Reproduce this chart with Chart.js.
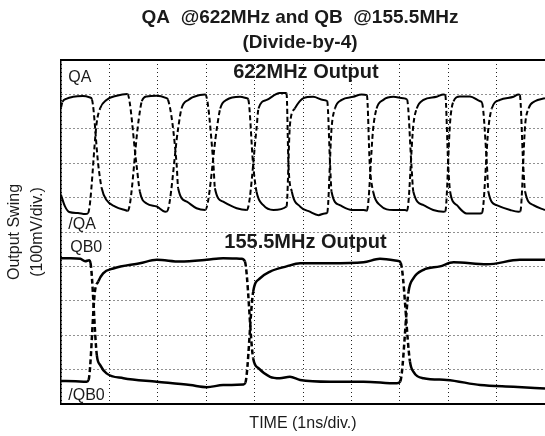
<!DOCTYPE html>
<html>
<head>
<meta charset="utf-8">
<script src="https://cdn.jsdelivr.net/npm/chart.js@4.4.0/dist/chart.umd.min.js"></script>
<style>
  html, body { margin: 0; padding: 0; background: #fff; }
  canvas { display: block; }
</style>
</head>
<body>
<canvas id="scope" width="545" height="436"></canvas>
<script>
// time in ns (1 ns/div), swing in divisions (100 mV/div)
const qaTrace = [
  [0.00, 8.62], [0.03, 8.78], [0.12, 8.88], [0.25, 8.93], [0.45, 8.95], [0.60, 8.91],
  [0.64, 8.85], [0.77, 6.95], [0.84, 6.28], [0.94, 5.93], [1.12, 5.74], [1.32, 5.64], [1.38, 5.62],
  [1.60, 8.21], [1.67, 8.80], [1.77, 8.94], [1.98, 8.96], [2.18, 8.89], [2.21, 8.85],
  [2.39, 6.95], [2.42, 6.27], [2.60, 5.88], [2.80, 5.69], [2.98, 5.64],
  [3.22, 8.01], [3.29, 8.59], [3.42, 8.84], [3.70, 8.93], [3.84, 8.89], [3.87, 8.85],
  [3.97, 6.95], [4.04, 6.17], [4.18, 5.78], [4.39, 5.64], [4.66, 5.74],
  [4.73, 8.11], [4.83, 8.59], [5.01, 8.89], [5.21, 8.93], [5.42, 8.84], [5.50, 8.80],
  [5.56, 6.95], [5.59, 6.17], [5.76, 5.78], [6.01, 5.64], [6.25, 5.64], [6.32, 5.62],
  [6.45, 8.01], [6.52, 8.59], [6.66, 8.84], [6.87, 8.93], [7.07, 8.89], [7.15, 8.85],
  [7.24, 6.95], [7.28, 6.17], [7.49, 5.78], [7.69, 5.64], [7.90, 5.59], [7.94, 5.60],
  [8.04, 8.21], [8.11, 8.80], [8.24, 8.94], [8.45, 8.94], [8.66, 8.80], [8.70, 8.75],
  [8.80, 6.95], [8.83, 6.17], [9.00, 5.78], [9.28, 5.64], [9.45, 5.59], [9.49, 5.60],
  [9.59, 8.11], [9.66, 8.59], [9.79, 8.80], [10.0, 8.89]
];

const qaBarTrace = [
  [0.00, 6.08], [0.08, 5.75], [0.17, 5.58], [0.35, 5.55], [0.50, 5.52], [0.56, 5.55],
  [0.74, 8.20], [0.81, 8.60], [0.94, 8.84], [1.15, 8.96], [1.37, 9.01],
  [1.56, 6.95], [1.63, 6.17], [1.77, 5.83], [1.98, 5.74], [2.15, 5.59], [2.19, 5.60],
  [2.42, 8.01], [2.49, 8.59], [2.63, 8.84], [2.87, 8.98], [2.98, 9.00],
  [3.15, 6.95], [3.18, 6.27], [3.35, 5.88], [3.63, 5.69], [3.84, 5.64],
  [4.04, 8.01], [4.08, 8.59], [4.25, 8.84], [4.52, 9.04], [4.66, 9.04],
  [4.70, 6.95], [4.77, 6.17], [4.94, 5.74], [5.14, 5.59], [5.32, 5.49], [5.45, 5.54], [5.50, 5.56],
  [5.59, 8.01], [5.66, 8.59], [5.80, 8.84], [6.04, 8.93], [6.21, 9.00], [6.32, 8.98],
  [6.38, 6.95], [6.45, 6.17], [6.59, 5.78], [6.87, 5.64], [7.11, 5.64], [7.15, 5.62],
  [7.28, 8.11], [7.35, 8.59], [7.49, 8.84], [7.76, 8.93], [7.90, 9.00], [7.94, 8.98],
  [8.00, 6.95], [8.04, 6.17], [8.18, 5.78], [8.38, 5.54], [8.66, 5.54], [8.70, 5.56],
  [8.83, 8.01], [8.90, 8.59], [9.07, 8.84], [9.35, 8.93], [9.45, 9.00], [9.48, 8.98],
  [9.55, 6.95], [9.59, 6.17], [9.76, 5.78], [10.0, 5.64]
];

const qb0Trace = [
  [0.00, 4.24], [0.20, 4.24], [0.40, 4.22], [0.50, 4.15], [0.58, 4.18], [0.61, 4.10],
  [0.74, 1.42], [0.81, 1.13], [0.94, 0.89], [1.29, 0.75], [1.98, 0.65], [2.67, 0.55],
  [3.01, 0.49], [3.35, 0.55], [3.77, 0.57], [3.81, 0.62],
  [3.97, 3.26], [4.11, 3.65], [4.32, 3.85], [4.66, 4.00], [4.94, 4.09], [5.56, 4.09],
  [6.25, 4.12], [6.59, 4.22], [6.97, 4.16], [7.02, 4.10],
  [7.21, 1.23], [7.28, 0.94], [7.49, 0.75], [7.97, 0.70], [8.66, 0.55], [9.35, 0.50], [10.0, 0.45]
];

const qb0BarTrace = [
  [0.00, 0.67], [0.30, 0.66], [0.53, 0.65], [0.57, 0.70],
  [0.70, 3.26], [0.77, 3.56], [0.87, 3.80], [1.08, 3.94], [1.63, 4.09], [1.98, 4.19],
  [2.46, 4.14], [3.01, 4.19], [3.35, 4.24], [3.73, 4.22], [3.80, 4.14],
  [3.97, 1.33], [4.08, 1.04], [4.32, 0.79], [4.52, 0.75], [4.73, 0.79], [4.94, 0.70],
  [5.56, 0.65], [6.25, 0.65], [6.94, 0.60], [7.01, 0.66],
  [7.18, 3.26], [7.28, 3.65], [7.49, 3.90], [7.83, 4.00], [8.11, 4.12], [8.80, 4.06],
  [9.48, 4.19], [10.0, 4.19]
];

const titleLines = ['QA  @622MHz and QB  @155.5MHz', '(Divide-by-4)'];
const xTitle = 'TIME (1ns/div.)';
const yTitle = ['Output Swing', '(100mV/div.)'];

// text placed at [time, division]
const traceLabels = [
  { text: 'QA', at: [0.15, 9.48] },
  { text: '/QA', at: [0.15, 5.22] },
  { text: 'QB0', at: [0.19, 4.55] },
  { text: '/QB0', at: [0.15, 0.23] }
];
const outputLabels = [
  { text: '622MHz Output', at: [5.06, 9.63] },
  { text: '155.5MHz Output', at: [5.05, 4.69] }
];

const FONT = '"Liberation Sans", Arial, Helvetica, sans-serif';
const INK = '#1a1a1a';

const toXY = arr => arr.map(p => ({ x: p[0], y: p[1] }));

// fast edges show up as dashed on the scope capture
const steepDash = ctx => {
  const dx = Math.abs(ctx.p1.x - ctx.p0.x);
  const dy = Math.abs(ctx.p1.y - ctx.p0.y);
  return dy > 3 * dx ? [5, 3] : undefined;
};

function trace(label, data, width) {
  return {
    label: label,
    data: toXY(data),
    borderColor: '#000',
    borderWidth: width,
    pointRadius: 0,
    cubicInterpolationMode: 'monotone',
    fill: false,
    segment: { borderDash: steepDash }
  };
}

const textPlugin = {
  id: 'scopeText',
  afterDraw(chart) {
    const ctx = chart.ctx;
    const xs = chart.scales.x, ys = chart.scales.y;
    ctx.save();
    ctx.fillStyle = INK;
    ctx.textBaseline = 'middle';

    ctx.textAlign = 'center';
    ctx.font = 'bold 19px ' + FONT;
    ctx.fillText(titleLines[0], 300, 18);
    ctx.fillText(titleLines[1], 300, 43);

    ctx.font = 'bold 20px ' + FONT;
    outputLabels.forEach(l => {
      ctx.fillText(l.text, xs.getPixelForValue(l.at[0]), ys.getPixelForValue(l.at[1]));
    });

    ctx.textAlign = 'left';
    ctx.font = '16px ' + FONT;
    traceLabels.forEach(l => {
      ctx.fillText(l.text, xs.getPixelForValue(l.at[0]), ys.getPixelForValue(l.at[1]));
    });
    ctx.restore();
  }
};

new Chart(document.getElementById('scope'), {
  type: 'line',
  data: {
    datasets: [
      trace('QA', qaTrace, 2),
      trace('/QA', qaBarTrace, 2),
      trace('QB0', qb0Trace, 2.5),
      trace('/QB0', qb0BarTrace, 2.5)
    ]
  },
  options: {
    responsive: false,
    animation: false,
    layout: { padding: { top: 60, left: 0, right: 0, bottom: 0 } },
    plugins: {
      legend: { display: false },
      tooltip: { enabled: false },
      title: { display: false }
    },
    scales: {
      x: {
        type: 'linear',
        min: 0, max: 10,
        ticks: { display: false, stepSize: 1 },
        grid: { color: '#222', lineWidth: 1, drawTicks: false },
        border: { display: true, color: '#000', width: 2, dash: [1, 3] },
        title: {
          display: true,
          text: xTitle,
          color: INK,
          font: { family: FONT, size: 16, lineHeight: 1.2 },
          padding: { top: 0, bottom: 3 }
        },
        afterFit: s => { s.height = 32; }
      },
      xTop: {
        type: 'linear',
        position: 'top',
        min: 0, max: 10,
        ticks: { display: false },
        grid: { display: false },
        border: { display: true, color: '#000', width: 2 },
        afterFit: s => { s.height = 0; }
      },
      y: {
        type: 'linear',
        min: 0, max: 10,
        ticks: { display: false, stepSize: 1 },
        grid: { color: '#222', lineWidth: 1, drawTicks: false },
        border: { display: true, color: '#000', width: 1.5, dash: [1, 3] },
        title: {
          display: true,
          text: yTitle,
          color: INK,
          font: { family: FONT, size: 16, lineHeight: 1.44 },
          padding: { top: 3.5, bottom: 0 }
        },
        afterFit: s => { s.width = 61; }
      }
    }
  },
  plugins: [textPlugin]
});
</script>
</body>
</html>
